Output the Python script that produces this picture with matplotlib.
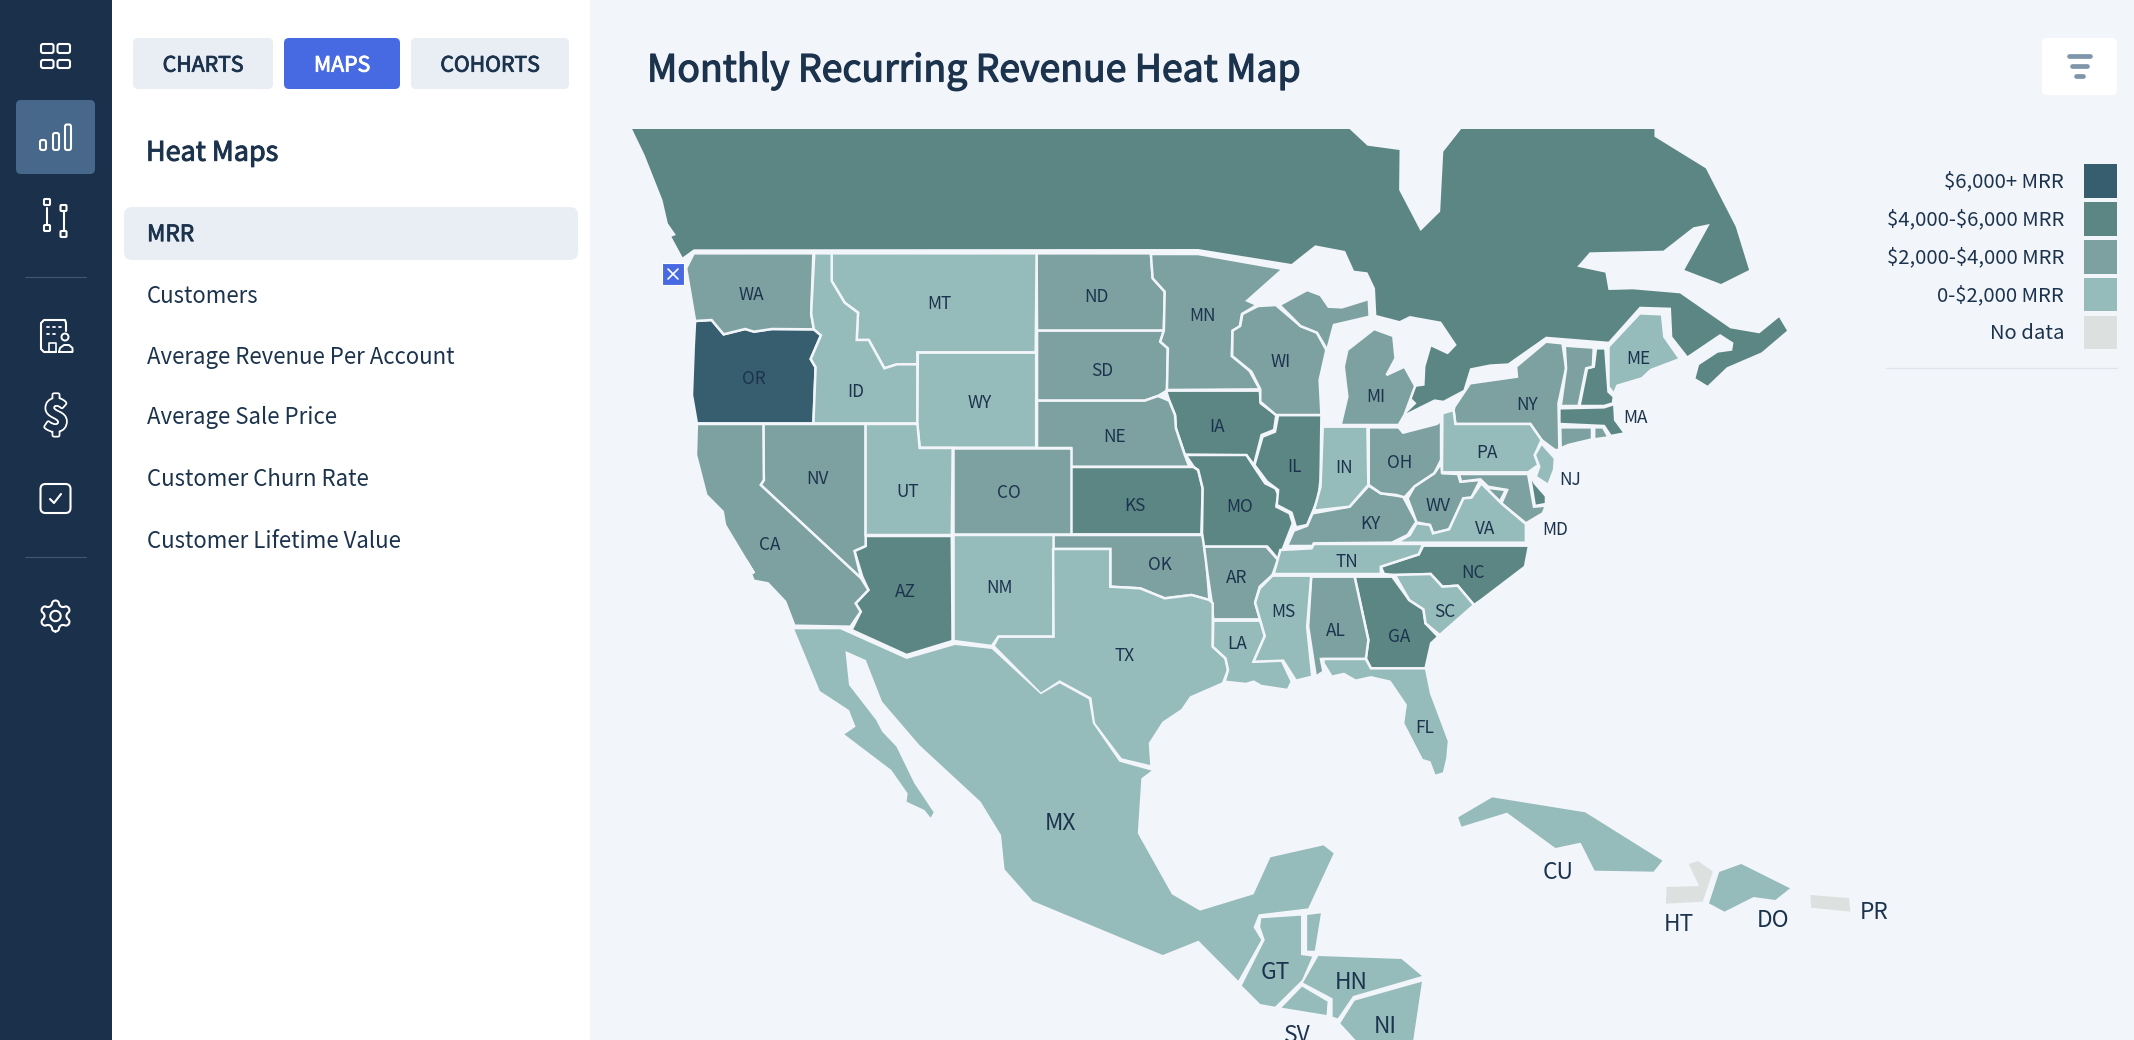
import numpy as np
import matplotlib
matplotlib.use('Agg')
import matplotlib.pyplot as plt
from matplotlib.patches import Polygon, FancyBboxPatch, Rectangle, Circle
import matplotlib.patheffects as pe

plt.rcParams['font.family'] = ['Noto Sans CJK SC', 'DejaVu Sans']

BG = '#f2f5fa'
NAVY = '#1b304a'
TEXT = '#1c334d'
BIN_COLORS = ['#375e6f', '#5c8684', '#7da1a1', '#95bbba', '#dce1df']

# crop windows the outlines were read in: x0, y0, x scale, y scale
A = (600, 120, 2.24, 3)
B = (1200, 120, 2.24, 3)
C = (700, 560, 1.96, 3)
D = (1400, 760, 2.851, 3)


def crop(win, pts):
    return [(win[0] + x / win[2], win[1] + y / win[3]) for x, y in pts]


# outlines
CANADA = crop(A, [(72, 27), (100, 105), (140, 240), (152, 310), (170, 345), (160, 350), (185, 412), (210, 388), (1340, 387)]) + crop(B, [
    (205, 432), (258, 376), (325, 393), (345, 452), (375, 457), (392, 505), (395, 585), (447, 603), (470, 588), (540, 605),
    (575, 675), (555, 703), (518, 680), (505, 740), (503, 797), (485, 800), (470, 830), (485, 850), (462, 880), (525, 838),
    (545, 842), (590, 810), (605, 745), (650, 733), (690, 730), (775, 650), (915, 665), (985, 560), (1055, 563), (1058, 650),
    (1092, 708), (1165, 642), (1195, 668), (1192, 692), (1160, 698), (1118, 735), (1110, 775), (1137, 797), (1180, 742),
    (1258, 697), (1315, 632), (1297, 592), (1253, 640), (1188, 625), (1075, 520), (970, 508), (915, 510), (908, 458),
    (845, 440), (873, 397), (1038, 392), (1105, 322), (1142, 312), (1085, 450), (1167, 492), (1230, 450), (1200, 320),
    (1133, 145), (1018, 50), (1018, 27), (585, 27), (545, 95), (538, 275), (494, 333), (446, 210), (447, 90), (375, 77), (335, 27)])

WA = crop(A, [(210, 400), (478, 400), (473, 580), (479, 628), (385, 627), (345, 635), (325, 627), (277, 643), (250, 600), (213, 603), (193, 445)])
OR = crop(A, [(213, 603), (250, 600), (277, 643), (325, 627), (345, 635), (385, 627), (479, 628), (495, 646), (472, 717), (483, 742), (478, 910), (217, 910), (206, 825), (210, 680)])
ID = crop(A, [(480, 400), (519, 400), (519, 483), (548, 548), (578, 578), (575, 660), (602, 660), (637, 745), (665, 733), (711, 733), (711, 910), (478, 910), (483, 742), (472, 717), (495, 646), (479, 628), (473, 580)])
MT = crop(A, [(519, 400), (978, 400), (976, 697), (711, 697), (711, 733), (665, 733), (637, 745), (602, 660), (575, 660), (578, 578), (548, 548), (519, 483)])
WY = crop(A, [(712, 698), (977, 698), (977, 983), (716, 983), (711, 915)])
ND = crop(A, [(978, 400), (1234, 400), (1238, 475), (1265, 515), (1263, 632), (979, 632)])
SD = crop(A, [(979, 632), (1263, 632), (1255, 665), (1272, 685), (1270, 810), (1266, 815), (1250, 828), (1220, 842), (979, 842)])
NE = crop(A, [(979, 842), (1220, 842), (1250, 828), (1275, 842), (1288, 885), (1290, 925), (1310, 1005), (1320, 1040), (1055, 1040), (1055, 984), (979, 984)])
MN = crop(A, [(1234, 402), (1340, 402), (1530, 447), (1450, 542), (1472, 555), (1438, 582), (1433, 620), (1417, 632), (1415, 708), (1455, 752), (1478, 808), (1270, 810), (1272, 685), (1255, 665), (1263, 632), (1265, 515), (1238, 475)])
IA = crop(A, [(1268, 812), (1478, 812), (1480, 850), (1515, 885), (1510, 930), (1482, 945), (1465, 1035), (1448, 1006), (1310, 1004), (1290, 925), (1288, 885), (1275, 842)])
NV = crop(A, [(366, 912), (595, 912), (595, 1278), (570, 1293), (585, 1375), (360, 1095), (367, 1080)])
UT = crop(A, [(595, 912), (711, 912), (716, 984), (790, 984), (788, 1245), (595, 1245)])
CO = crop(A, [(790, 984), (1054, 984), (1054, 1243), (790, 1243)])
KS = crop(A, [(1054, 1041), (1330, 1041), (1340, 1050), (1350, 1105), (1347, 1243), (1054, 1243)])
MO = crop(A, [(1312, 1005), (1448, 1005), (1465, 1040), (1490, 1090), (1513, 1105), (1520, 1125), (1515, 1160), (1545, 1180), (1552, 1210), (1520, 1320), (1495, 1280), (1348, 1280), (1350, 1105), (1340, 1050), (1330, 1041)])
CA = crop(A, [(217, 912), (366, 912), (367, 1080), (360, 1095), (585, 1375)]) + crop(C, [(330, 90), (305, 130), (315, 155), (295, 200), (185, 197), (167, 125), (133, 70), (105, 62), (90, 0)]) + crop(A, [(345, 1360), (280, 1215), (275, 1175), (238, 1125), (215, 1005)])
AZ = crop(A, [(595, 1248), (788, 1248)]) + crop(C, [(495, 243), (405, 285), (297, 210), (315, 155), (305, 130), (330, 90), (318, 50)]) + crop(A, [(570, 1293), (595, 1278)])
NM = crop(C, [(497, -75), (693, -75), (693, 230), (585, 230), (572, 258), (497, 243)])
OK = crop(A, [(1015, 1245), (1349, 1245), (1358, 1320), (1365, 1440), (1325, 1425), (1265, 1435), (1210, 1405), (1143, 1400), (1143, 1287), (1015, 1287)])
TX = crop(A, [(1015, 1287), (1143, 1287), (1143, 1400), (1210, 1405), (1265, 1435), (1325, 1425), (1365, 1440)]) + crop(C, [
    (1005, 130), (1005, 260), (1030, 295), (1035, 330), (1025, 370), (962, 412), (945, 450), (908, 488), (882, 550), (885, 620),
    (825, 598), (772, 490), (765, 415), (705, 365), (668, 402), (575, 258), (585, 230), (693, 230)])
AR = crop(C, [(988, -40), (1110, -40), (1133, 0), (1122, 45), (1097, 80), (1088, 128), (1098, 178), (1006, 178), (1003, 127), (995, 45)])
LA = crop(C, [(1006, 182), (1098, 182), (1107, 228), (1085, 305), (1140, 300), (1160, 365), (1152, 390), (1100, 378), (1085, 365), (1070, 372), (1028, 365), (1035, 330), (1030, 295), (1005, 260)])
MS = crop(C, [(1122, 47), (1198, 47), (1190, 200), (1200, 350), (1168, 362), (1143, 302), (1085, 305), (1107, 228), (1088, 128), (1097, 85)])
AL = crop(C, [(1198, 50), (1283, 50), (1310, 240), (1305, 297), (1217, 297), (1222, 335), (1207, 350), (1192, 200)])
GA = crop(C, [(1283, 50), (1357, 50), (1390, 120), (1418, 148), (1422, 190), (1447, 230), (1433, 250), (1422, 325), (1315, 325), (1305, 295), (1310, 240)])
FL = crop(C, [(1222, 297), (1305, 297), (1315, 325), (1423, 325), (1433, 400), (1468, 543), (1465, 595), (1458, 640), (1440, 648), (1430, 607), (1415, 600), (1378, 490), (1383, 435), (1352, 365), (1315, 352), (1285, 362), (1262, 342), (1238, 350), (1222, 310)])
SC = crop(C, [(1362, 45), (1432, 42), (1455, 80), (1485, 77), (1517, 135), (1450, 225), (1422, 190), (1418, 148), (1390, 120)])
NC = crop(B, [(500, 1277), (737, 1277), (728, 1340), (630, 1440)]) + crop(C, [(1517, 135), (1485, 77), (1455, 80), (1432, 42), (1362, 45)]) + crop(B, [(412, 1362), (405, 1340), (490, 1303)])
TN = crop(B, [(180, 1290), (250, 1285), (255, 1272), (500, 1272), (490, 1303), (405, 1340), (405, 1362), (165, 1362)])
KY = crop(B, [(195, 1278), (210, 1232), (240, 1217), (252, 1180), (335, 1160), (378, 1097), (405, 1120), (455, 1130), (485, 1205), (465, 1245), (430, 1268), (255, 1270), (252, 1278)])
IL = crop(B, [(175, 885), (272, 885), (270, 1080), (265, 1135), (240, 1215), (215, 1222), (205, 1178), (172, 1155), (175, 1110), (150, 1085), (122, 1035), (140, 950), (168, 935)])
IN = crop(B, [(275, 920), (375, 920), (377, 1095), (335, 1160), (255, 1172), (270, 1100)])
WI = crop(B, [(130, 558), (170, 555), (225, 618), (262, 638), (283, 690), (268, 780), (272, 885), (170, 885), (135, 845), (135, 808), (115, 755), (72, 708), (73, 632), (90, 618), (95, 582)])
MI_UPPER = crop(B, [(178, 555), (240, 510), (270, 525), (288, 560), (318, 562), (378, 537), (380, 590), (300, 615), (285, 690), (262, 638), (225, 618)])
MI = crop(B, [(330, 690), (390, 627), (433, 648), (438, 715), (418, 765), (458, 740), (482, 798), (458, 885), (445, 915), (315, 915), (330, 830), (322, 740)])
OH = crop(B, [(378, 922), (445, 922), (455, 938), (530, 912), (540, 902), (540, 1020), (525, 1060), (480, 1100), (458, 1132), (440, 1125), (405, 1120), (378, 1095)])
PA = crop(B, [(543, 880), (568, 870), (572, 912), (740, 912), (765, 960), (750, 1005), (758, 1035), (735, 1057), (542, 1057)])
NY = crop(B, [(570, 860), (605, 790), (710, 770), (708, 740), (775, 665), (812, 670), (820, 745), (803, 850), (805, 990), (795, 990), (765, 960), (740, 912), (572, 912), (568, 870)])
VT = crop(B, [(817, 677), (882, 683), (880, 740), (865, 745), (848, 858), (808, 858), (820, 745)])
NH = crop(B, [(887, 685), (908, 685), (915, 815), (927, 830), (925, 850), (905, 858), (850, 858), (867, 745), (882, 740)])
ME = crop(B, [(915, 680), (985, 580), (1035, 583), (1040, 650), (1075, 717), (1010, 750), (990, 775), (935, 797), (927, 822), (915, 800)])
MA = crop(B, [(805, 865), (905, 862), (928, 852), (930, 900), (952, 940), (920, 948), (905, 918), (805, 912)])
CT = crop(B, [(807, 922), (878, 922), (878, 958), (825, 975), (808, 985)])
RI = crop(B, [(883, 922), (903, 922), (915, 952), (883, 958)])
LONG_ISLAND = crop(B, [(800, 1010), (830, 995), (858, 978), (830, 1003), (805, 1010)])
NJ = crop(B, [(765, 970), (795, 1015), (793, 1050), (780, 1095), (752, 1070), (760, 1040), (750, 1005)])
DE = crop(B, [(738, 1060), (750, 1090), (775, 1128), (775, 1152), (750, 1158)])
MD = crop(B, [(580, 1062), (735, 1062), (740, 1100), (748, 1160), (775, 1157), (768, 1180), (730, 1210), (675, 1150), (688, 1110), (645, 1100), (628, 1078), (585, 1085)])
DC = crop(B, [(640, 1103), (685, 1110), (672, 1145)])
VA = crop(B, [(630, 1090), (675, 1150), (730, 1212), (730, 1268), (440, 1268), (470, 1245), (485, 1210), (515, 1215), (522, 1240), (558, 1228), (590, 1135), (608, 1133)])
WV = crop(B, [(465, 1135), (480, 1100), (525, 1060), (540, 1030), (543, 1060), (578, 1062), (583, 1085), (628, 1080), (608, 1133), (590, 1135), (558, 1228), (522, 1240), (515, 1215), (485, 1207)])

MX = crop(C, [(185, 208), (275, 208), (405, 297), (500, 255), (572, 267), (668, 403), (705, 370), (762, 418), (770, 490), (822, 605), (885, 632), (865, 655), (858, 820), (925, 1003), (980, 1052), (1085, 1003), (1118, 892), (1222, 856), (1242, 880), (1192, 1045), (1095, 1063), (1085, 1102), (1100, 1140), (1055, 1262), (977, 1142), (907, 1185), (652, 1023), (597, 928), (590, 825), (550, 725), (430, 555), (357, 425), (325, 300), (285, 273), (292, 375), (345, 480), (357, 515), (385, 560), (420, 670), (458, 757), (452, 773), (440, 750), (405, 725), (407, 700), (375, 630), (283, 523), (305, 500), (292, 450), (235, 393), (218, 330)])
GT = crop(C, [(1100, 1075), (1178, 1067), (1178, 1185), (1200, 1190), (1180, 1260), (1127, 1340), (1098, 1332), (1062, 1277), (1107, 1140), (1098, 1100)])
BZ = crop(C, [(1190, 1065), (1217, 1060), (1205, 1172), (1190, 1172)])
HN = crop(C, [(1212, 1188), (1375, 1197), (1415, 1248), (1280, 1308), (1250, 1375), (1240, 1370), (1240, 1315), (1182, 1268)])
SV = crop(C, [(1180, 1280), (1230, 1325), (1228, 1365), (1140, 1343)])
NI = crop(C, [(1415, 1265), (1398, 1440), (1285, 1440), (1255, 1390), (1283, 1322)])
CU = crop(D, [(263, 112), (528, 157), (748, 302), (723, 335), (555, 332), (515, 248), (443, 264), (305, 158), (175, 200), (166, 172)])
HT = crop(D, [(823, 312), (850, 303), (892, 335), (863, 425), (758, 431), (760, 381), (853, 378)])
DO = crop(D, [(910, 336), (973, 312), (1112, 385), (1070, 420), (1008, 411), (925, 455), (881, 430)])
PR = crop(D, [(1170, 405), (1280, 414), (1284, 455), (1172, 443)])

# MRR bins
BIN_6000 = [OR]
BIN_4000 = [CANADA, IA, KS, MO, IL, AZ, GA, NC, NH, MA, DE]
BIN_2000 = [WA, ND, SD, NE, MN, WI, MI_UPPER, MI, NV, CO, CA, OK, AR, AL, KY, OH, WV, NY, VT, CT, RI, LONG_ISLAND, MD, DC]
BIN_0 = [MT, ID, WY, UT, NM, TX, LA, MS, FL, SC, TN, IN, PA, NJ, VA, ME, MX, GT, BZ, HN, SV, NI, CU, DO]
BIN_NONE = [HT, PR]
# traced along the fill itself, so these carry no stroke
NO_STROKE = [CANADA, MX, GT, BZ, HN, SV, NI, CU, HT, DO, PR]

# label, window, x, y
LABELS_A = [('WA', 338, 522), ('MT', 760, 547), ('ND', 1112, 527), ('MN', 1350, 583), ('OR', 345, 772), ('ID', 572, 811), ('WY', 850, 846), ('SD', 1124, 748), ('NE', 1152, 946), ('IA', 1383, 916), ('NV', 486, 1072), ('UT', 690, 1111), ('CO', 917, 1114), ('KS', 1199, 1153), ('MO', 1432, 1157), ('CA', 380, 1270), ('OK', 1254, 1332), ('AR', 1427, 1369), ('AZ', 683, 1413), ('NM', 895, 1399)]
LABELS_B = [('WI', 180, 723), ('MI', 394, 827), ('NY', 732, 850), ('ME', 982, 712), ('MA', 975, 889), ('PA', 642, 994), ('IL', 212, 1036), ('IN', 322, 1040), ('OH', 447, 1024), ('NJ', 828, 1075), ('WV', 533, 1153), ('VA', 638, 1222), ('KY', 381, 1207), ('MD', 795, 1225), ('TN', 330, 1322), ('NC', 612, 1355)]
LABELS_C = [('TX', 833, 284), ('LA', 1052, 248), ('MS', 1143, 152), ('AL', 1247, 209), ('GA', 1371, 226), ('SC', 1460, 151), ('FL', 1420, 499)]
LABELS_BIG_C = [('MX', 707, 784), ('GT', 1127, 1233), ('HN', 1276, 1262), ('NI', 1343, 1393), ('SV', 1171, 1420)]
LABELS_BIG_D = [('CU', 451, 332), ('HT', 795, 488), ('DO', 1065, 477), ('PR', 1351, 453)]

LEGEND_LABELS = ['$6,000+ MRR', '$4,000-$6,000 MRR', '$2,000-$4,000 MRR', '0-$2,000 MRR', 'No data']
MENU_ITEMS = ['Customers', 'Average Revenue Per Account', 'Average Sale Price', 'Customer Churn Rate', 'Customer Lifetime Value']
TABS = ['CHARTS', 'MAPS', 'COHORTS']

fig = plt.figure(figsize=(21.34, 10.4), dpi=100, facecolor=BG)
ax = fig.add_axes([0, 0, 1, 1])
ax.set_xlim(0, 2134)
ax.set_ylim(1040, 0)
ax.axis('off')


def rrect(x0, y0, x1, y1, r=6, fc='none', ec='none', lw=0, z=2):
    p = FancyBboxPatch((x0 + r, y0 + r), x1 - x0 - 2 * r, y1 - y0 - 2 * r,
                       boxstyle='round,pad=%f,rounding_size=%f' % (r, r),
                       fc=fc, ec=ec, lw=lw, zorder=z)
    ax.add_patch(p)


def label(x, y, s, size, color=TEXT, ha='center', semibold=0, z=5):
    # y is the middle of the capitals; semibold thickens the regular face
    px = size * 100 / 72
    t = ax.text(x, y + 0.36 * px, s, fontsize=size, color=color, ha=ha, va='baseline',
                zorder=z, parse_math=False)
    if semibold:
        t.set_path_effects([pe.Stroke(linewidth=semibold, foreground=color), pe.Normal()])


def line(xs, ys, lw=1.5, color='white', z=4):
    ax.plot(xs, ys, color=color, lw=lw, solid_capstyle='round', solid_joinstyle='round', zorder=z)


# panels
ax.add_patch(Rectangle((0, 0), 112, 1040, fc=NAVY, ec='none', zorder=1))
ax.add_patch(Rectangle((112, 0), 478, 1040, fc='white', ec='none', zorder=1))

# sidebar icons
rrect(16, 100, 95, 174, r=5, fc='#47688a')
for (x0, x1) in [(41, 53.5), (57.5, 70)]:
    for (y0, y1) in [(44, 53), (60, 68)]:
        rrect(x0, y0, x1, y1, r=2, ec='white', lw=1.5, z=4)
for xc, top in [(43, 140), (56, 133), (68, 124.5)]:
    rrect(xc - 3, top, xc + 3, 150, r=2, ec='white', lw=1.5, z=4)
line([47, 47], [208, 224])
line([63.5, 63.5], [212, 230])
for xc, yc in [(47, 202), (47, 228), (63.5, 208), (63.5, 234)]:
    rrect(xc - 3, yc - 3, xc + 3, yc + 3, r=1, ec='white', lw=1.5, z=4)
for yd in [277, 557]:
    line([25, 86], [yd, yd], lw=0.8, color='#41566f')
# building with person
line([56, 44, 41, 41, 44, 55], [352, 352, 349, 323, 320, 320])
line([55, 65, 66, 66], [320, 320, 323, 331])
line([56, 56, 49, 49], [352, 343, 343, 352], lw=1.2)
for dx, dy in [(47, 327), (53, 327), (59, 327), (47, 334), (53, 334)]:
    line([dx, dx + 1.5], [dy, dy], lw=1.3)
ax.add_patch(Circle((65, 337), 3.5, fc='none', ec='white', lw=1.4, zorder=4))
line([59, 60, 64, 69, 72.5, 72.5, 59], [352, 348, 345, 345, 348, 352, 352], lw=1.4)
# dollar sign
t = ax.text(56, 430, '$', fontsize=30, color=NAVY, ha='center', va='baseline', zorder=4,
            fontweight='bold', parse_math=False)
t.set_path_effects([pe.Stroke(linewidth=3.4, foreground='white'), pe.Stroke(linewidth=0.8, foreground=NAVY), pe.Normal()])
# checkbox
rrect(40.5, 484, 70.5, 513, r=5, ec='white', lw=1.5, z=4)
line([50, 54, 61], [499, 503, 494])
# gear
th = np.linspace(0, 2 * np.pi, 200)
rg = 13.2 + 2.3 * np.sign(np.cos(6 * th)) * np.abs(np.cos(6 * th)) ** 0.6
line(55.5 + rg * np.sin(th), 616 + rg * np.cos(th))
ax.add_patch(Circle((55.5, 616), 5.2, fc='none', ec='white', lw=1.5, zorder=4))

# tabs
tab_edges = [(133, 273), (284, 400), (411, 569)]
for name, (x0, x1) in zip(TABS, tab_edges):
    on = name == 'MAPS'
    rrect(x0, 38, x1, 89, r=5, fc='#4769e2' if on else '#e9eef5')
    label((x0 + x1) / 2, 64, name, 15.3, color='white' if on else TEXT, semibold=0.6)

label(146, 151, 'Heat Maps', 19.4, ha='left', semibold=0.7)
rrect(124, 207, 578, 260, r=8, fc='#e9eef5')
label(147, 233, 'MRR', 16.3, ha='left', semibold=0.6)
for name, yc in zip(MENU_ITEMS, [295, 356, 416, 478, 540]):
    label(147, yc, name, 16, ha='left')

# title and filter button
label(647, 68, 'Monthly Recurring Revenue Heat Map', 26.9, ha='left', semibold=0.9)
rrect(2042, 38, 2117, 95, r=5, fc='white')
for x0, x1, yb in [(2069, 2090, 56), (2072, 2087, 66), (2076, 2083, 76)]:
    ax.plot([x0, x1], [yb, yb], color='#7f96aa', lw=3.4, solid_capstyle='round', zorder=4)

# map
for shapes, col in zip([BIN_6000, BIN_4000, BIN_2000, BIN_0, BIN_NONE], BIN_COLORS):
    for pts in shapes:
        bare = any(pts is s for s in NO_STROKE)
        ax.add_patch(Polygon(pts, closed=True, fc=col, ec=col if bare else BG, lw=0 if bare else 1.8,
                             joinstyle='miter', zorder=3))

for items, win, size in [(LABELS_A, A, 12.4), (LABELS_B, B, 12.4), (LABELS_C, C, 12.4),
                         (LABELS_BIG_C, C, 16.4), (LABELS_BIG_D, D, 16.4)]:
    for name, zx, zy in items:
        (px, py), = crop(win, [(zx, zy)])
        label(px, py, name, size)

# the little close marker off the coast
ax.add_patch(Rectangle((662, 263), 22, 22, fc='#4769e2', ec='white', lw=0.8, zorder=5))
line([668, 678], [269, 279], lw=1.2, z=6)
line([678, 668], [269, 279], lw=1.2, z=6)

# legend
sw_tops = [(164, 198), (202, 236), (240, 274), (278, 311), (316, 349)]
for name, col, (y0, y1) in zip(LEGEND_LABELS, BIN_COLORS, sw_tops):
    ax.add_patch(Rectangle((2084, y0), 33, y1 - y0, fc=col, ec='none', zorder=3))
    label(2064, (y0 + y1) / 2 - 1, name, 14.6, ha='right')
line([1886, 2117], [368, 368], lw=0.9, color='#dfe3ea')

fig.savefig('out.png', dpi=100, facecolor=BG)
